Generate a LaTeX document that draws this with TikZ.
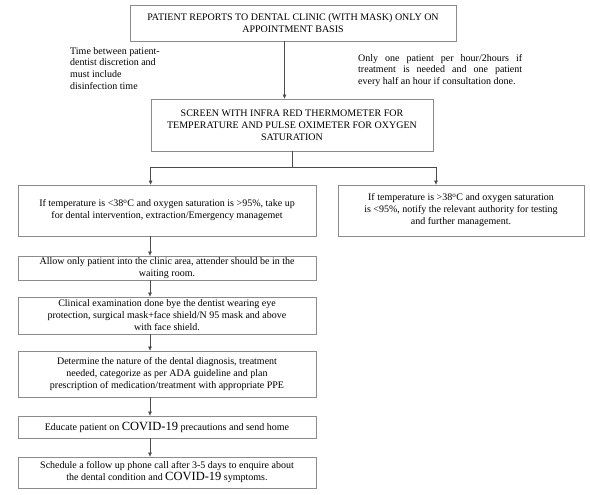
\documentclass[tikz,border=0pt]{standalone}
\usepackage{fontspec}
\setmainfont{Liberation Serif}
\usetikzlibrary{arrows.meta}
\tikzset{
  box/.style={draw=black!45, line width=0.8pt, inner sep=0pt, align=center, font=\fontsize{10}{12}\selectfont},
  note/.style={inner sep=0pt, font=\fontsize{10}{11.7}\selectfont},
  conn/.style={draw=black!70, line width=0.6pt},
  arr/.style={conn, -{Triangle[length=4pt,width=3.5pt]}}
}
\newcommand{\cvd}{{\fontsize{12.5}{12}\selectfont COVID-19}}
\begin{document}
\begin{tikzpicture}[x=1pt,y=-1pt]
\useasboundingbox[fill=white] (0,0) rectangle (590,495);
\node[box, minimum width=326pt, minimum height=36pt] (b1) at (293,23)
  {PATIENT REPORTS TO DENTAL CLINIC (WITH MASK) ONLY ON\\APPOINTMENT BASIS};
\node[box, minimum width=282pt, minimum height=52pt] (b2) at (292,125)
  {SCREEN WITH INFRA RED THERMOMETER FOR\\TEMPERATURE AND PULSE OXIMETER FOR OXYGEN\\SATURATION};
\node[box, minimum width=298pt, minimum height=51pt] (ba) at (167,210.5)
  {If temperature is <38\textsuperscript{o}C and oxygen saturation is >95\%, take up\\for dental intervention, extraction/Emergency managemet};
\node[box, minimum width=246pt, minimum height=51pt] (bb) at (461,210.5)
  {If temperature is >38\textsuperscript{o}C and oxygen saturation\\is <95\%, notify the relevant authority for testing\\and further management.};
\node[box, minimum width=298pt, minimum height=24pt] (b3) at (167,268)
  {Allow only patient into the clinic area, attender should be in the\\waiting room.};
\node[box, minimum width=298pt, minimum height=37pt] (b4) at (167,315.5)
  {Clinical examination done bye the dentist wearing eye\\protection, surgical mask+face shield/N 95 mask and above\\with face shield.};
\node[box, minimum width=298pt, minimum height=46pt] (b5) at (167,374)
  {Determine the nature of the dental diagnosis, treatment\\needed, categorize as per ADA guideline and plan\\prescription of medication/treatment with appropriate PPE};
\node[box, minimum width=298pt, minimum height=22pt] (b6) at (167,427)
  {Educate patient on \cvd{} precautions and send home};
\node[box, minimum width=298pt, minimum height=31pt] (b7) at (167,472.5)
  {Schedule a follow up phone call after 3-5 days to enquire about\\the dental condition and \cvd{} symptoms.};
\node[note, anchor=north west, align=left] (tl) at (70,47)
  {Time between patient-\\dentist discretion and\\must include\\disinfection time};
\node[note, anchor=north west, align=left] (tr) at (358,54)
  {\makebox[164pt][s]{Only one patient per hour/2hours if}\\\makebox[164pt][s]{treatment is needed and one patient}\\every half an hour if consultation done.};
\coordinate (xa) at (284.5,0);
\coordinate (xl) at (150,0);
\coordinate (xr) at (436,0);
\coordinate (hy) at (0,167);
\draw[arr] (b1.south -| xa) -- (b2.north -| xa);
\draw[conn] (b2.south) -- (b2.south |- hy) coordinate (hm);
\draw[conn] (hy -| b2.west) -- (hy -| xr);
\draw[arr] (hy -| b2.west) -- (ba.north -| b2.west);
\draw[arr] (hy -| xr) -- (bb.north -| xr);
\draw[arr] (ba.south -| xl) -- (b3.north -| xl);
\draw[arr] (b3.south -| xl) -- (b4.north -| xl);
\draw[arr] (b4.south -| xl) -- (b5.north -| xl);
\draw[arr] (b5.south -| xl) -- (b6.north -| xl);
\draw[arr] (b6.south -| xl) -- (b7.north -| xl);
\end{tikzpicture}
\end{document}
